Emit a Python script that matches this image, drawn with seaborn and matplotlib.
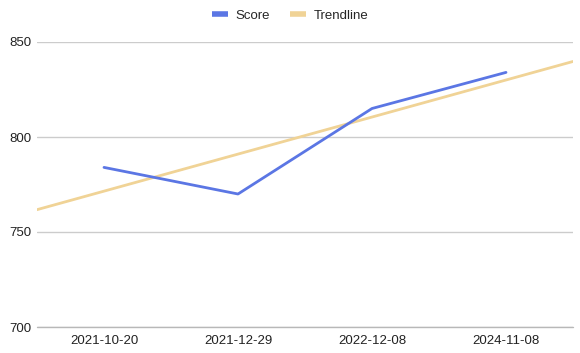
import matplotlib
matplotlib.use("Agg")
import matplotlib.pyplot as plt
import seaborn as sns
import numpy as np
import pandas as pd

dates = ["2021-10-20", "2021-12-29", "2022-12-08", "2024-11-08"]
scores = [784, 770, 815, 834]
y_ticks = [700, 750, 800, 850]

sns.set_style("white")
plt.rcParams['font.family'] = ['Liberation Sans', 'DejaVu Sans']

fig = plt.figure(figsize=(5.8, 3.53), dpi=100)
ax = fig.add_axes([37/580, 1-327/353, (573-37)/580, (327-42)/353])

idx = np.arange(len(dates))
df = pd.DataFrame({"idx": idx, "Score": scores})
slope, intercept = np.polyfit(idx, scores, 1)
tx = np.array([-0.5, len(dates) - 0.5])
tdf = pd.DataFrame({"idx": tx, "Trendline": slope * tx + intercept})

score_color = "#5b76e4"
trend_color = "#f0d396"

sns.lineplot(data=tdf, x="idx", y="Trendline", ax=ax, color=trend_color, lw=2, label="Trendline", zorder=2)
sns.lineplot(data=df, x="idx", y="Score", ax=ax, color=score_color, lw=2, label="Score", zorder=3)

ax.set_xlim(-0.5, len(dates) - 0.5)
ax.set_ylim(700, 850)
ax.set_yticks(y_ticks)
ax.set_yticklabels([str(v) for v in y_ticks])
ax.set_xticks(idx)
ax.set_xticklabels(dates)
ax.set_xlabel("")
ax.set_ylabel("")
ax.tick_params(axis='both', length=0, labelsize=9.5, colors="#222222")
ax.tick_params(axis='x', pad=6)
ax.tick_params(axis='y', pad=4)
for s in ax.spines.values():
    s.set_visible(False)
ax.grid(axis='y', color="#cccccc", lw=1)
ax.axhline(700, color="#b8b8b8", lw=1, zorder=1, clip_on=False)

handles, labels = ax.get_legend_handles_labels()
order = [labels.index("Score"), labels.index("Trendline")]
leg = fig.legend([handles[i] for i in order], [labels[i] for i in order],
                 loc="center", bbox_to_anchor=(0.5, 1 - 16/353), ncol=2, frameon=False,
                 fontsize=9.5, handlelength=1.2, handletextpad=0.6, columnspacing=1.5)
for h in leg.get_lines():
    h.set_linewidth(4)
    h.set_solid_capstyle("butt")
if ax.get_legend():
    ax.get_legend().remove()

fig.savefig("out.png", dpi=100)
